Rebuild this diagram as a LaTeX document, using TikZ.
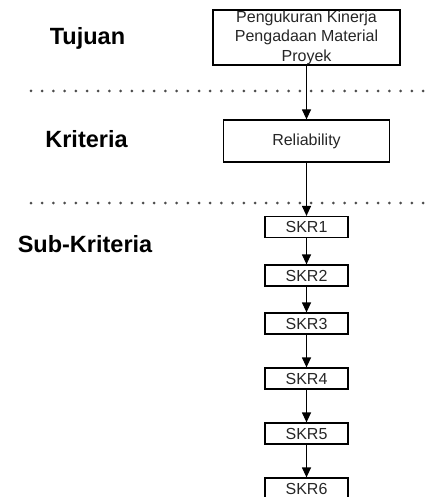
\documentclass[tikz,border=0pt]{standalone}
\usepackage{fontspec}
\setmainfont{Liberation Sans}
\usetikzlibrary{arrows.meta}

\begin{document}
\begin{tikzpicture}[x=1pt, y=-1pt,
    kotak/.style={draw, line width=1.2pt, inner sep=0pt, text=black!85, font=\fontsize{16}{19.5}\selectfont, align=center},
    panah/.style={-{Triangle[length=10pt,width=9pt]}, line width=1.2pt},
    pemisah/.style={line width=3pt, line cap=round, dash pattern=on 0pt off 11.2pt, black!70},
    tingkat/.style={font=\fontsize{23.5}{28}\selectfont\bfseries, anchor=base}]
    \useasboundingbox (0,0) rectangle (428,497);
    % Label tingkat
    \node[tingkat] (tujuan) at (87.5,45) {Tujuan};
    \node[tingkat] (kriteria) at (86.5,148) {Kriteria};
    \node[tingkat] (subkriteria) at (85,252) {Sub-Kriteria};
    % Garis pemisah
    \draw[pemisah] (31,91) -- (428,91);
    \draw[pemisah] (31,203) -- (428,203);
    % Tujuan
    \node[kotak, minimum width=187pt, minimum height=55pt] (goal) at (306.5,37.5) {Pengukuran Kinerja\\Pengadaan Material\\Proyek};
    % Kriteria
    \node[kotak, minimum width=166pt, minimum height=42pt] (rel) at (306.5,141) {Reliability};
    % Sub-kriteria
    \foreach \i/\y in {1/227,2/275.5,3/323.5,4/378.5,5/433.5,6/488.5}
        \node[kotak, minimum width=83pt, minimum height=21pt] (skr\i) at (306.5,\y) {SKR\i};
    % Panah
    \draw[panah] (goal) -- (rel);
    \draw[panah] (rel) -- (skr1);
    \foreach \i [count=\j from 2] in {1,...,5}
        \draw[panah] (skr\i) -- (skr\j);
\end{tikzpicture}
\end{document}
